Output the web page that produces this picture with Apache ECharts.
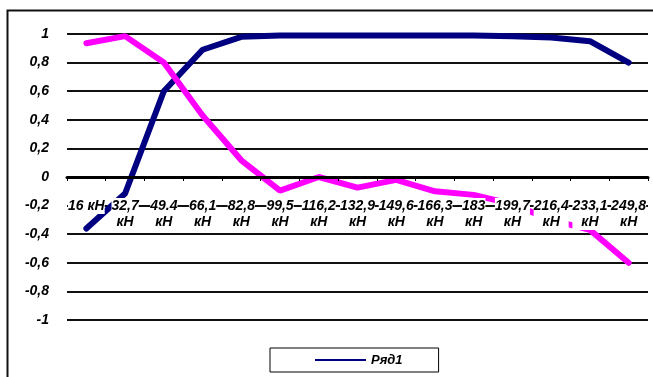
<!DOCTYPE html>
<html>
<head>
<meta charset="utf-8">
<script src="https://cdn.jsdelivr.net/npm/echarts@6/dist/echarts.min.js"></script>
<style>
  html, body { margin: 0; padding: 0; background: #fff; }
  #chart { width: 653px; height: 377px; }
</style>
</head>
<body>
<div id="chart"></div>
<script>
// Load steps (кН) along the category axis
const categories = ['16 кН', '32,7 кН', '49.4 кН', '66,1 кН', '82,8 кН', '99,5 кН', '116,2 кН',
  '132,9 кН', '149,6 кН', '166,3 кН', '183 кН', '199,7 кН', '216,4 кН', '233,1 кН', '249,8 кН'];

// Series values
const seriesName1 = 'Ряд1';
const seriesName2 = 'Ряд2';
const series1 = [-0.36, -0.115, 0.6, 0.89, 0.98, 0.99, 0.99, 0.99, 0.99, 0.99, 0.99, 0.985, 0.975, 0.95, 0.8];
const series2 = [0.935, 0.985, 0.8, 0.43, 0.117, -0.095, 0.0, -0.074, -0.02, -0.1, -0.125, -0.19, -0.3, -0.37, -0.6];

// Value axis tick labels, from -1 to 1 in steps of 0.2
const yTickValues = [-1, -0.8, -0.6, -0.4, -0.2, 0, 0.2, 0.4, 0.6, 0.8, 1];
const yTickLabels = ['-1', '-0,8', '-0,6', '-0,4', '-0,2', '0', '0,2', '0,4', '0,6', '0,8', '1'];

const FONT = 'Liberation Sans, Arial, sans-serif';

const GRID_TOP = 34, GRID_BOTTOM = 57, HEIGHT = 377;
const plotHeight = HEIGHT - GRID_TOP - GRID_BOTTOM;
// the category axis sits on the zero line, halfway up the plot (range -1..1)
const zeroOffset = -plotHeight * (0 - yTickValues[0]) / (yTickValues[yTickValues.length - 1] - yTickValues[0]);

function yLabel(v) {
  let best = 0;
  for (let i = 1; i < yTickValues.length; i++) {
    if (Math.abs(yTickValues[i] - v) < Math.abs(yTickValues[best] - v)) best = i;
  }
  return yTickLabels[best];
}

const chart = echarts.init(document.getElementById('chart'), null, { renderer: 'canvas' });
chart.setOption({
  animation: false,
  backgroundColor: '#fff',
  graphic: [{
    type: 'rect',
    left: 5, top: 8,
    shape: { width: 700, height: 420 },
    style: { fill: 'none', stroke: '#111', lineWidth: 2 },
    silent: true,
    z: 0
  }],
  grid: { left: 67, right: 5, top: GRID_TOP, bottom: GRID_BOTTOM, containLabel: false },
  legend: {
    data: [seriesName1],
    icon: 'rect',
    left: 270, top: 348,
    padding: [5, 36, 5, 45],
    borderColor: '#000', borderWidth: 1,
    itemWidth: 51, itemHeight: 2,
    textStyle: { fontFamily: FONT, fontSize: 13, fontWeight: 'bold', fontStyle: 'italic', color: '#000', lineHeight: 14 }
  },
  xAxis: {
    type: 'category',
    data: categories,
    boundaryGap: true,
    position: 'bottom',
    offset: zeroOffset,
    z: 3,
    axisLine: { onZero: false, lineStyle: { color: '#000', width: 3 } },
    axisTick: { show: true, length: 4, lineStyle: { color: '#000', width: 1 } },
    axisLabel: {
      interval: 0,
      margin: 21,
      fontFamily: FONT, fontSize: 14, fontWeight: 'bold', fontStyle: 'italic', color: '#000',
      lineHeight: 16,
      backgroundColor: '#fff',
      padding: [0, 0],
      formatter: (v, i) => (i === 0 ? v : v.replace(' ', '\n'))
    },
    splitLine: { show: false }
  },
  yAxis: {
    type: 'value',
    min: -1, max: 1, interval: 0.2,
    axisLine: { show: false },
    axisTick: { show: false },
    axisLabel: {
      margin: 18,
      fontFamily: FONT, fontSize: 14, fontWeight: 'bold', fontStyle: 'italic', color: '#000',
      formatter: yLabel
    },
    splitLine: { lineStyle: { color: '#111', width: 2 } }
  },
  series: [
    {
      name: seriesName1,
      type: 'line',
      data: series1,
      symbol: 'none',
      lineStyle: { color: '#000080', width: 6, cap: 'round' },
      itemStyle: { color: '#000080' },
      z: 2
    },
    {
      name: seriesName2,
      type: 'line',
      data: series2,
      symbol: 'none',
      lineStyle: { color: '#FF00FF', width: 6, cap: 'round' },
      itemStyle: { color: '#FF00FF' },
      z: 2
    }
  ]
});
</script>
</body>
</html>
